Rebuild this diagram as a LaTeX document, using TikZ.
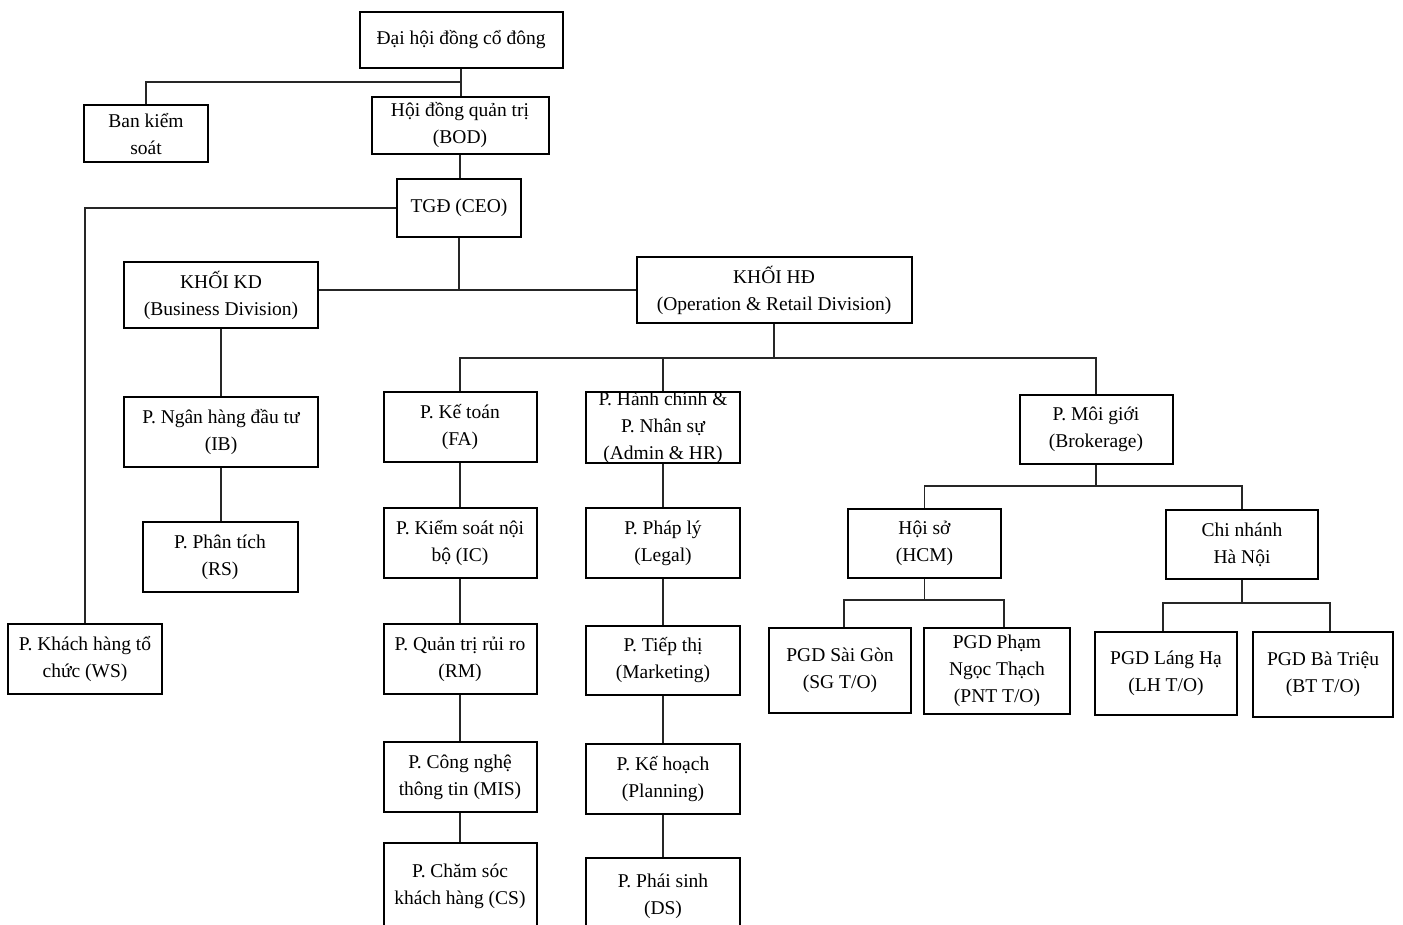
\documentclass[tikz,border=0pt]{standalone}
\usepackage{fontspec}
\setmainfont{Liberation Serif}
\newcommand{\boxfont}{\fontsize{19.5}{27}\selectfont}
\tikzset{
  orgbox/.style={draw=black, line width=2pt, fill=white, align=center, inner sep=0pt, font=\boxfont},
  link/.style={draw=black!85, line width=1.5pt},
}
\begin{document}
\begin{tikzpicture}[x=1pt,y=-1pt]
\clip (0,0) rectangle (1403,925);
\fill[white] (0,0) rectangle (1403,925);
% top levels
\node[orgbox, minimum width=203, minimum height=56] (dhd) at (461,40) {Đại hội đồng cổ đông};
\node[orgbox, minimum width=124, minimum height=57] (bks) at (146,134) {Ban kiểm\\soát};
\node[orgbox, minimum width=177, minimum height=57] (hdqt) at (460,125.5) {Hội đồng quản trị\\(BOD)};
\node[orgbox, minimum width=124, minimum height=58] (tgd) at (459,208) {TGĐ (CEO)};
\node[orgbox, minimum width=194, minimum height=66] (kd) at (221,295) {KHỐI KD\\(Business Division)};
\node[orgbox, minimum width=275, minimum height=66] (hd) at (774,290) {KHỐI HĐ\\(Operation \& Retail Division)};
% business division
\node[orgbox, minimum width=194, minimum height=70] (ib) at (221,432) {P. Ngân hàng đầu tư\\(IB)};
\node[orgbox, minimum width=155, minimum height=70] (rs) at (220,557) {P. Phân tích\\(RS)};
\node[orgbox, minimum width=154, minimum height=70] (ws) at (85,659) {P. Khách hàng tổ\\chức (WS)};
% operation column 1
\node[orgbox, minimum width=153, minimum height=70] (fa) at (460,427) {P. Kế toán\\(FA)};
\node[orgbox, minimum width=153, minimum height=70] (ic) at (460,543) {P. Kiểm soát nội\\bộ (IC)};
\node[orgbox, minimum width=153, minimum height=70] (rm) at (460,659) {P. Quản trị rủi ro\\(RM)};
\node[orgbox, minimum width=153, minimum height=70] (mis) at (460,777) {P. Công nghệ\\thông tin (MIS)};
\node[orgbox, minimum width=153, minimum height=86] (cs) at (460,886) {P. Chăm sóc\\khách hàng (CS)};
% operation column 2
\node[orgbox, minimum width=154, minimum height=69] (hc) at (663,427.5) {P. Hành chính \&\\P. Nhân sự\\(Admin \& HR)};
\node[orgbox, minimum width=154, minimum height=70] (pl) at (663,543) {P. Pháp lý\\(Legal)};
\node[orgbox, minimum width=154, minimum height=69] (tt) at (663,660.5) {P. Tiếp thị\\(Marketing)};
\node[orgbox, minimum width=154, minimum height=70] (kh) at (663,779) {P. Kế hoạch\\(Planning)};
\node[orgbox, minimum width=154, minimum height=76] (ps) at (663,896) {P. Phái sinh\\(DS)};
% brokerage
\node[orgbox, minimum width=153, minimum height=69] (mg) at (1096,429.5) {P. Môi giới\\(Brokerage)};
\node[orgbox, minimum width=153, minimum height=69] (hs) at (924.5,543.5) {Hội sở\\(HCM)};
\node[orgbox, minimum width=152, minimum height=69] (cn) at (1242,544.5) {Chi nhánh\\Hà Nội};
\node[orgbox, minimum width=142, minimum height=85] (sg) at (840,670.5) {PGD Sài Gòn\\(SG T/O)};
\node[orgbox, minimum width=146, minimum height=86] (pnt) at (997,671) {PGD Phạm\\Ngọc Thạch\\(PNT T/O)};
\node[orgbox, minimum width=142, minimum height=83] (lh) at (1166,673.5) {PGD Láng Hạ\\(LH T/O)};
\node[orgbox, minimum width=140, minimum height=85] (bt) at (1323,674.5) {PGD Bà Triệu\\(BT T/O)};
% junctions
\coordinate (j1) at (461,82);
\coordinate (j3) at (774,358);
\coordinate (j4) at (1096,486);
\coordinate (j5) at (924.5,600);
\coordinate (j6) at (1242,603);
% connectors
\draw[link] (dhd.south) -- (dhd.south |- hdqt.north);
\draw[link] (j1) -| (bks.north);
\draw[link] (hdqt.south) -- (hdqt.south |- tgd.north);
\draw[link] (tgd.west) -| (ws.north);
\draw[link] (tgd.south) -- (tgd.south |- hd.west);
\draw[link] (kd.east |- hd.west) -- (hd.west);
\draw[link] (kd.south) -- (kd.south |- ib.north);
\draw[link] (ib.south) -- (ib.south |- rs.north);
\draw[link] (hd.south) -- (j3);
\draw[link] (fa.north) |- (mg.north |- j3) -- (mg.north);
\draw[link] (hc.north) -- (hc.north |- j3);
\draw[link] (fa.south) -- (ic.north);
\draw[link] (ic.south) -- (rm.north);
\draw[link] (rm.south) -- (mis.north);
\draw[link] (mis.south) -- (cs.north);
\draw[link] (hc.south) -- (pl.north);
\draw[link] (pl.south) -- (tt.north);
\draw[link] (tt.south) -- (kh.north);
\draw[link] (kh.south) -- (ps.north);
\draw[link] (mg.south) -- (j4);
\draw[link] (hs.north) |- (cn.north |- j4) -- (cn.north);
\draw[link] (hs.south) -- (j5);
\draw[link] ([xshift=4pt]sg.north) |- ([xshift=7pt]pnt.north |- j5) -- ([xshift=7pt]pnt.north);
\draw[link] (cn.south) -- (j6);
\draw[link] ([xshift=-3pt]lh.north) |- ([xshift=7pt]bt.north |- j6) -- ([xshift=7pt]bt.north);
\end{tikzpicture}
\end{document}
